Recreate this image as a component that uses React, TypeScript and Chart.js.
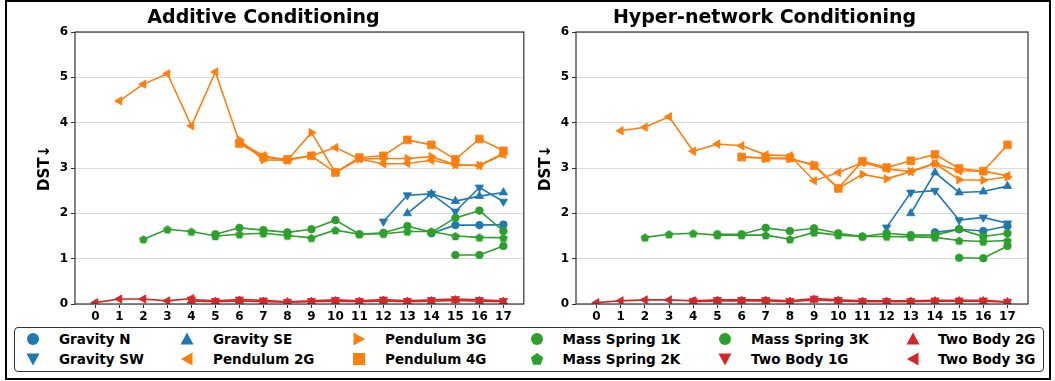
import React, { useEffect, useRef } from "react";
import { Chart, registerables } from "chart.js";

Chart.register(...registerables);

// Training stage on the x axis, DST (lower is better) on the y axis
const STEPS = [0, 1, 2, 3, 4, 5, 6, 7, 8, 9, 10, 11, 12, 13, 14, 15, 16, 17];
const Y_TICKS = [0, 1, 2, 3, 4, 5, 6];

const SERIES_NAMES = [
  "Gravity N", "Gravity SW", "Gravity SE",
  "Pendulum 2G", "Pendulum 3G", "Pendulum 4G",
  "Mass Spring 1K", "Mass Spring 2K", "Mass Spring 3K",
  "Two Body 1G", "Two Body 2G", "Two Body 3G",
];
const SERIES_COLORS = [
  "#1f77b4", "#1f77b4", "#1f77b4",
  "#ff7f0e", "#ff7f0e", "#ff7f0e",
  "#2ca02c", "#2ca02c", "#2ca02c",
  "#d62728", "#d62728", "#d62728",
];
const SERIES_MARKERS = [
  "circle", "down", "up",
  "left", "right", "square",
  "circle", "pentagon", "circle",
  "down", "up", "left",
];

const _ = null;

// ---- Additive Conditioning ----
const addGravityN = [_, _, _, _, _, _, _, _, _, _, _, _, _, _, 1.56, 1.74, 1.74, 1.75];
const addGravitySW = [_, _, _, _, _, _, _, _, _, _, _, _, 1.82, 2.40, 2.43, 2.04, 2.57, 2.26];
const addGravitySE = [_, _, _, _, _, _, _, _, _, _, _, _, _, 2.00, 2.43, 2.27, 2.38, 2.46];
const addPendulum2G = [_, 4.48, 4.85, 5.08, 3.93, 5.12, 3.57, 3.27, 3.17, 3.27, 3.45, 3.20, 3.09, 3.10, 3.17, 3.07, 3.05, 3.30];
const addPendulum3G = [_, _, _, _, _, _, 3.62, 3.18, 3.17, 3.78, 2.90, 3.20, 3.21, 3.21, 3.25, 3.07, 3.06, 3.32];
const addPendulum4G = [_, _, _, _, _, _, 3.54, 3.24, 3.19, 3.27, 2.90, 3.23, 3.27, 3.62, 3.51, 3.19, 3.64, 3.38];
const addSpring1K = [_, _, _, _, _, 1.54, 1.68, 1.63, 1.58, 1.65, 1.85, 1.54, 1.57, 1.72, 1.58, 1.90, 2.06, 1.61];
const addSpring2K = [_, _, 1.43, 1.65, 1.60, 1.50, 1.54, 1.56, 1.51, 1.46, 1.63, 1.54, 1.55, 1.60, 1.60, 1.50, 1.47, 1.46];
const addSpring3K = [_, _, _, _, _, _, _, _, _, _, _, _, _, _, _, 1.08, 1.08, 1.28];
const addTwoBody1G = [_, _, _, _, 0.10, 0.07, 0.10, 0.08, 0.05, 0.07, 0.09, 0.07, 0.10, 0.07, 0.09, 0.11, 0.09, 0.07];
const addTwoBody2G = [_, _, _, _, 0.07, 0.05, 0.07, 0.05, 0.04, 0.05, 0.06, 0.05, 0.07, 0.05, 0.06, 0.08, 0.06, 0.05];
const addTwoBody3G = [0.03, 0.11, 0.11, 0.07, 0.12, _, _, _, _, _, _, _, _, _, _, _, _, _];

// ---- Hyper-network Conditioning ----
const hypGravityN = [_, _, _, _, _, _, _, _, _, _, _, _, _, _, 1.58, 1.65, 1.61, 1.72];
const hypGravitySW = [_, _, _, _, _, _, _, _, _, _, _, _, 1.69, 2.46, 2.50, 1.85, 1.91, 1.78];
const hypGravitySE = [_, _, _, _, _, _, _, _, _, _, _, _, _, 2.00, 2.90, 2.46, 2.48, 2.60];
const hypPendulum2G = [_, 3.82, 3.90, 4.13, 3.37, 3.53, 3.49, 3.29, 3.27, 2.72, 2.90, 3.12, 2.98, 2.92, 3.10, 2.94, 2.93, 2.83];
const hypPendulum3G = [_, _, _, _, _, _, 3.25, 3.21, 3.20, 3.07, 2.55, 2.86, 2.76, 2.92, 3.10, 2.74, 2.73, 2.80];
const hypPendulum4G = [_, _, _, _, _, _, 3.24, 3.22, 3.22, 3.05, 2.55, 3.15, 3.01, 3.16, 3.30, 2.99, 2.93, 3.51];
const hypSpring1K = [_, _, _, _, _, 1.54, 1.54, 1.68, 1.61, 1.67, 1.56, 1.49, 1.56, 1.52, 1.52, 1.65, 1.49, 1.56];
const hypSpring2K = [_, _, 1.47, 1.54, 1.56, 1.52, 1.52, 1.52, 1.43, 1.58, 1.52, 1.49, 1.49, 1.48, 1.47, 1.40, 1.38, 1.40];
const hypSpring3K = [_, _, _, _, _, _, _, _, _, _, _, _, _, _, _, 1.02, 1.01, 1.28];
const hypTwoBody1G = [_, _, _, _, 0.07, 0.09, 0.09, 0.09, 0.07, 0.12, 0.09, 0.07, 0.07, 0.07, 0.08, 0.08, 0.08, 0.05];
const hypTwoBody2G = [_, _, _, _, 0.05, 0.07, 0.07, 0.07, 0.05, 0.09, 0.07, 0.05, 0.05, 0.05, 0.06, 0.06, 0.06, 0.04];
const hypTwoBody3G = [0.03, 0.07, 0.09, 0.09, 0.07, _, _, _, _, _, _, _, _, _, _, _, _, _];

const ADDITIVE = [
  addGravityN, addGravitySW, addGravitySE,
  addPendulum2G, addPendulum3G, addPendulum4G,
  addSpring1K, addSpring2K, addSpring3K,
  addTwoBody1G, addTwoBody2G, addTwoBody3G,
];
const HYPER = [
  hypGravityN, hypGravitySW, hypGravitySE,
  hypPendulum2G, hypPendulum3G, hypPendulum4G,
  hypSpring1K, hypSpring2K, hypSpring3K,
  hypTwoBody1G, hypTwoBody2G, hypTwoBody3G,
];

const FONT = "'DejaVu Sans', sans-serif";
const CANVAS_H = 326;

function makePentagon(color: string, r: number) {
  const size = Math.ceil(r * 2 + 2);
  const c = document.createElement("canvas");
  c.width = size;
  c.height = size;
  const g = c.getContext("2d")!;
  g.fillStyle = color;
  g.beginPath();
  for (let k = 0; k < 5; k++) {
    const a = -Math.PI / 2 + (k * 2 * Math.PI) / 5;
    const px = size / 2 + r * Math.cos(a);
    const py = size / 2 + 0.5 + r * Math.sin(a);
    if (k === 0) g.moveTo(px, py);
    else g.lineTo(px, py);
  }
  g.closePath();
  g.fill();
  return c;
}

function pointSpec(marker: string, color: string) {
  switch (marker) {
    case "up": return { style: "triangle", rot: 0, r: 4.8 };
    case "down": return { style: "triangle", rot: 180, r: 4.8 };
    case "left": return { style: "triangle", rot: -90, r: 4.8 };
    case "right": return { style: "triangle", rot: 90, r: 4.8 };
    case "square": return { style: "rect", rot: 0, r: 5.4 };
    case "pentagon": return { style: makePentagon(color, 4.6) as any, rot: 0, r: 4.6 };
    default: return { style: "circle", rot: 0, r: 3.8 };
  }
}

// Box around the plotting area (all four spines)
const framePlugin = {
  id: "frame",
  afterDraw(chart: any) {
    const { ctx, chartArea } = chart;
    const { left, top, right, bottom } = chartArea;
    ctx.save();
    ctx.strokeStyle = "#333";
    ctx.lineWidth = 1.2;
    ctx.strokeRect(left, top, right - left, bottom - top);
    ctx.restore();
  },
};

function buildConfig(title: string, seriesValues: (number | null)[][], padRight: number) {
  const n = seriesValues.length;
  const datasets = seriesValues.map((vals, i) => {
    const color = SERIES_COLORS[i];
    const p = pointSpec(SERIES_MARKERS[i], color);
    const pts: { x: number; y: number }[] = [];
    vals.forEach((v, k) => {
      if (v !== null) pts.push({ x: STEPS[k], y: v });
    });
    return {
      label: SERIES_NAMES[i],
      data: pts,
      borderColor: color,
      backgroundColor: color,
      pointBackgroundColor: color,
      pointBorderColor: color,
      pointBorderWidth: 0.8,
      borderWidth: 1.6,
      pointStyle: p.style,
      pointRotation: p.rot,
      pointRadius: p.r,
      tension: 0,
      fill: false,
      order: n - i,
    };
  });

  return {
    type: "line" as const,
    data: { datasets },
    plugins: [framePlugin],
    options: {
      animation: false as const,
      responsive: false,
      events: [],
      layout: { padding: { left: 0, right: padRight, top: 0, bottom: 0 } },
      plugins: {
        legend: { display: false },
        tooltip: { enabled: false },
        title: {
          display: true,
          text: title,
          color: "#000",
          font: { family: FONT, size: 19, weight: "bold" as const, lineHeight: 1.2 },
          padding: { top: 6.5, bottom: 2.7 },
        },
      },
      scales: {
        x: {
          type: "linear" as const,
          min: -0.85,
          max: 17.85,
          afterBuildTicks: (scale: any) => {
            scale.ticks = STEPS.map((v) => ({ value: v }));
          },
          afterFit: (scale: any) => {
            scale.height = 22;
          },
          border: { display: false },
          grid: {
            drawOnChartArea: false,
            drawTicks: true,
            tickLength: 4,
            tickColor: "#333",
            lineWidth: 1,
          },
          ticks: {
            autoSkip: false,
            maxRotation: 0,
            padding: 2,
            color: "#000",
            font: { family: FONT, size: 12, weight: "bold" as const },
          },
        },
        y: {
          min: 0,
          max: 6,
          afterBuildTicks: (scale: any) => {
            scale.ticks = Y_TICKS.map((v) => ({ value: v }));
          },
          afterFit: (scale: any) => {
            scale.width = 75;
          },
          border: { display: false },
          grid: {
            color: "#dcdcdc",
            lineWidth: 1,
            drawTicks: true,
            tickLength: 4,
            tickColor: "#333",
          },
          ticks: {
            padding: 3,
            color: "#000",
            font: { family: FONT, size: 12, weight: "bold" as const },
          },
          title: {
            display: true,
            text: "DST↓",
            color: "#000",
            font: { family: FONT, size: 15, weight: "bold" as const, lineHeight: 1.2 },
            padding: { top: 36, bottom: 0 },
          },
        },
      },
    },
  };
}

function Panel(props: { title: string; series: (number | null)[][]; left: number; width: number; padRight: number }) {
  const ref = useRef<HTMLCanvasElement>(null);
  useEffect(() => {
    const chart = new Chart(ref.current!, buildConfig(props.title, props.series, props.padRight) as any);
    return () => chart.destroy();
  }, []);
  return (
    <canvas
      ref={ref}
      width={props.width}
      height={CANVAS_H}
      style={{ position: "absolute", left: props.left, top: 0, width: props.width, height: CANVAS_H }}
    />
  );
}

function LegendMarker({ marker, color }: { marker: string; color: string }) {
  let shape: React.ReactNode;
  if (marker === "circle") shape = <circle cx={7} cy={7} r={6} fill={color} />;
  else if (marker === "up") shape = <polygon points="7,0.5 13.5,12.5 0.5,12.5" fill={color} />;
  else if (marker === "down") shape = <polygon points="7,13.5 0.5,1.5 13.5,1.5" fill={color} />;
  else if (marker === "left") shape = <polygon points="0.8,7 12.5,0.5 12.5,13.5" fill={color} />;
  else if (marker === "right") shape = <polygon points="13.2,7 1.5,0.5 1.5,13.5" fill={color} />;
  else if (marker === "square") shape = <rect x={1} y={1} width={12} height={12} fill={color} />;
  else {
    const pts: string[] = [];
    for (let k = 0; k < 5; k++) {
      const a = -Math.PI / 2 + (k * 2 * Math.PI) / 5;
      pts.push(`${(7 + 6.5 * Math.cos(a)).toFixed(2)},${(7.6 + 6.5 * Math.sin(a)).toFixed(2)}`);
    }
    shape = <polygon points={pts.join(" ")} fill={color} />;
  }
  return (
    <svg width={14} height={14} style={{ position: "absolute", left: -7, top: -7 }}>
      {shape}
    </svg>
  );
}

const LEGEND_MARKER_X = [33, 187, 359, 537, 725, 912.5];
const LEGEND_TEXT_X = [59, 213, 385, 562.5, 751, 938];
const LEGEND_ROW_Y = [338.5, 358.5];

function Legend() {
  const items: React.ReactNode[] = [];
  SERIES_NAMES.forEach((name, i) => {
    const col = Math.floor(i / 2);
    const row = i % 2;
    const y = LEGEND_ROW_Y[row];
    items.push(
      <div key={"m" + i} style={{ position: "absolute", left: LEGEND_MARKER_X[col], top: y, width: 0, height: 0 }}>
        <LegendMarker marker={SERIES_MARKERS[i]} color={SERIES_COLORS[i]} />
      </div>
    );
    items.push(
      <div
        key={"t" + i}
        style={{
          position: "absolute",
          left: LEGEND_TEXT_X[col],
          top: y - 9,
          height: 18,
          lineHeight: "18px",
          fontFamily: FONT,
          fontWeight: "bold",
          fontSize: 13.5,
          color: "#000",
          whiteSpace: "nowrap",
        }}
      >
        {name}
      </div>
    );
  });
  return (
    <>
      <div
        style={{
          position: "absolute",
          left: 14,
          top: 327,
          width: 1030,
          height: 45,
          boxSizing: "border-box",
          border: "1px solid #333",
          borderRadius: 4,
        }}
      />
      {items}
    </>
  );
}

export default function App() {
  return (
    <div style={{ position: "absolute", left: 0, top: 0, width: 1055, height: 381, overflow: "hidden", background: "#fff" }}>
      <div
        style={{
          position: "absolute",
          left: 5,
          top: 0,
          width: 1046,
          height: 380,
          boxSizing: "border-box",
          border: "2px solid #000",
        }}
      />
      <Panel title="Additive Conditioning" series={ADDITIVE} left={0} width={530} padRight={3} />
      <Panel title="Hyper-network Conditioning" series={HYPER} left={501} width={554} padRight={27} />
      <Legend />
    </div>
  );
}
